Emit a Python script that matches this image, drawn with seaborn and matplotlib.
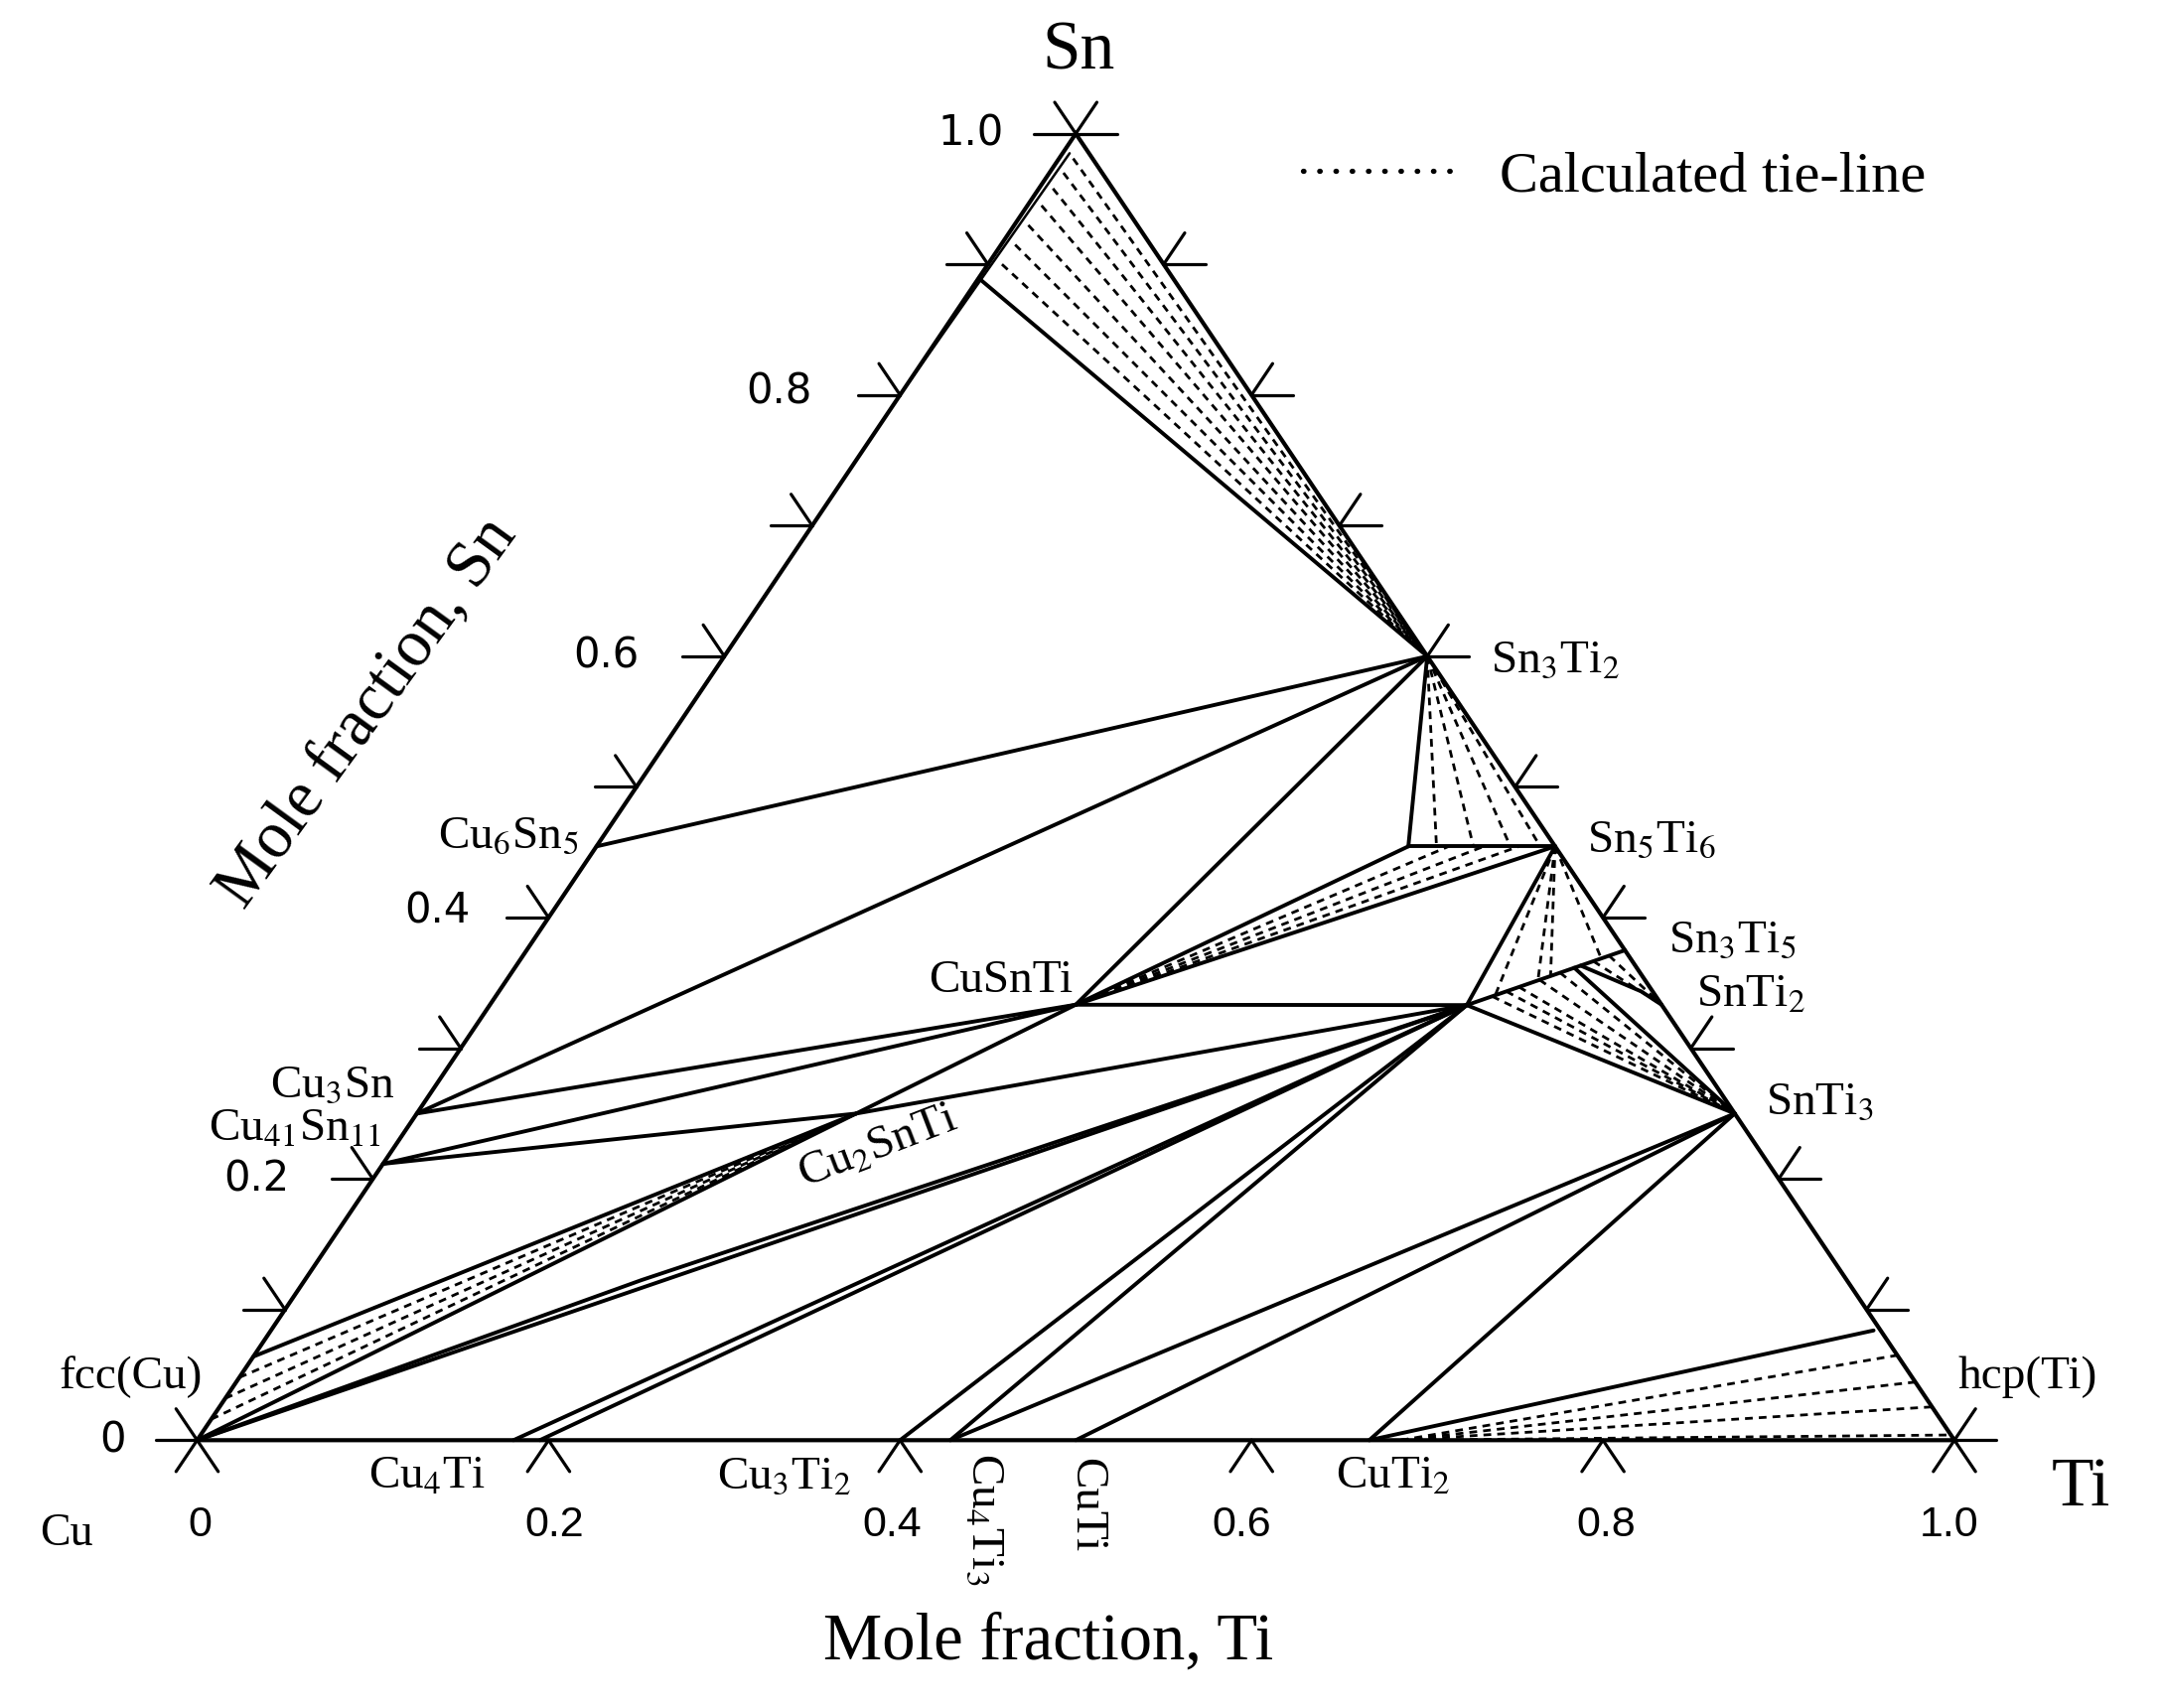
import numpy as np
import pandas as pd
import matplotlib
matplotlib.use("Agg")
import matplotlib.pyplot as plt
from matplotlib.lines import Line2D
import seaborn as sns

# --- compositions, as (x_Ti, x_Sn) ---
CU = (0.0, 0.0)
SN = (0.0, 1.0)
TI = (1.0, 0.0)
SN3TI2 = (0.400, 0.600)
SN5TI6 = (0.5455, 0.4545)
SN5TI6_CU = (0.462, 0.4545)      # Cu-rich limit of Sn5Ti6
SN3TI5 = (0.625, 0.375)
SNTI2 = (0.6667, 0.3333)
SNTI3 = (0.750, 0.250)
SN3TI5_CU = (0.556, 0.333)       # Cu-rich limit of Sn3Ti5
HCP_TI = (0.912, 0.084)
CU6SN5 = (0.0, 0.4545)
CU3SN = (0.0, 0.250)
CU41SN11 = (0.0, 0.2115)
FCC_CU = (0.0, 0.064)
CUSNTI = (0.3333, 0.3333)
CU2SNTI = (0.250, 0.250)
LIQUID = (0.002, 0.888)
SNTI2_BEND = (0.650, 0.3435)

# Cu-Ti compounds on the base (x_Ti)
CU4TI = [0.180, 0.195]
CU3TI2 = 0.400
CU4TI3 = 0.4286
CUTI = 0.500
CUTI2 = 0.667

# tie-line ends
LIQ_TIE_SN = [0.900, 0.915, 0.930, 0.945, 0.958, 0.970, 0.981]
SN32_TIE_TI = [0.478, 0.499, 0.520, 0.537]
CUSNTI_TIE_TI = [0.485, 0.505, 0.525]
SN56_TIE_T = [0.18, 0.45, 0.53, 0.85]
SNTI3_TIE_T = [0.16, 0.25, 0.33, 0.46, 0.59]
SNTI2_TIE_T = [0.80, 0.90]
FCC_TIE_SN = [0.016, 0.032, 0.048]
HCP_TIE_SN = [0.065, 0.0445, 0.0255, 0.004]

TICKS = [0.1, 0.2, 0.3, 0.4, 0.5, 0.6, 0.7, 0.8, 0.9]
BASE_TICKS = [0.2, 0.4, 0.6, 0.8]


def tern(p):
    ti, sn = p
    return ti + 0.5 * sn, sn


def along(a, b, t):
    return (a[0] + t * (b[0] - a[0]), a[1] + t * (b[1] - a[1]))


def base(ti):
    return (ti, 0.0)


R_PT = along(SN3TI5_CU, SN3TI5, 0.68)
BEND0 = along(SN3TI5_CU, SN3TI5, 0.72)
cu_q_mid = along(CU, SN3TI5_CU, 0.35)
cu_q_mid = (cu_q_mid[0] - 0.003, cu_q_mid[1] + 0.006)

solid = [
    [LIQUID, SN3TI2],
    [SN3TI2, CU6SN5], [SN3TI2, CU3SN], [SN3TI2, CUSNTI],
    [SN3TI2, SN5TI6_CU], [SN5TI6_CU, SN5TI6],
    [CUSNTI, SN5TI6_CU], [CUSNTI, SN5TI6], [CUSNTI, SN3TI5_CU],
    [SN3TI5_CU, SN5TI6], [SN3TI5_CU, SN3TI5], [SN3TI5_CU, SNTI3],
    [R_PT, SNTI3], [BEND0, SNTI2_BEND, SNTI2],
    [CU3SN, CUSNTI], [CU41SN11, CUSNTI], [CU41SN11, CU2SNTI],
    [CU2SNTI, SN3TI5_CU], [CU, CUSNTI], [FCC_CU, CU2SNTI],
    [CU, SN3TI5_CU], [CU, cu_q_mid, SN3TI5_CU],
    [base(CU4TI[0]), SN3TI5_CU], [base(CU4TI[1]), SN3TI5_CU],
    [base(CU3TI2), SN3TI5_CU], [base(CU4TI3), SN3TI5_CU],
    [base(CU4TI3), SNTI3], [base(CUTI), SNTI3],
    [base(CUTI2), SNTI3], [base(CUTI2), HCP_TI],
]

dashed = []
dashed += [[(0.008, s), SN3TI2] for s in LIQ_TIE_SN]
dashed += [[SN3TI2, (t, SN5TI6[1])] for t in SN32_TIE_TI]
dashed += [[CUSNTI, (t, SN5TI6[1])] for t in CUSNTI_TIE_TI]
dashed += [[SN5TI6, along(SN3TI5_CU, SN3TI5, t)] for t in SN56_TIE_T]
dashed += [[along(SN3TI5_CU, SN3TI5, t), SNTI3] for t in SNTI3_TIE_T]
dashed += [[along(SN3TI5_CU, SN3TI5, t), SNTI2] for t in SNTI2_TIE_T]
dashed += [[(0.0, s), CU2SNTI] for s in FCC_TIE_SN]
dashed += [[(0.685, 0.0), (1.0 - s, s)] for s in HCP_TIE_SN]


def to_frame(segments):
    rows = []
    for i, seg in enumerate(segments):
        for p in seg:
            x, y = tern(p)
            rows.append({"seg": i, "x": x, "y": y})
    return pd.DataFrame(rows)


sns.set_theme(style="white")
plt.rcParams["font.family"] = ["Liberation Serif", "DejaVu Sans"]
plt.rcParams["mathtext.fontset"] = "stix"
plt.rcParams["text.color"] = "black"

fig = plt.figure(figsize=(21.76, 17.2), dpi=100)
ax = fig.add_axes([0, 0, 1, 1])

# triangle frame
frame = pd.DataFrame({"x": [tern(p)[0] for p in (CU, TI, SN, CU)],
                      "y": [tern(p)[1] for p in (CU, TI, SN, CU)]})
ax.plot(frame["x"], frame["y"], color="black", lw=3.0, solid_joinstyle="miter")
# liquid boundary hugging the Cu-Sn side
inner = [tern((0.004, 0.985)), tern((0.0, 0.80))]
ax.plot([inner[0][0], inner[1][0]], [inner[0][1], inner[1][1]], color="black", lw=1.8)

sns.lineplot(data=to_frame(solid), x="x", y="y", units="seg", estimator=None,
             sort=False, color="black", linewidth=2.8, ax=ax)
sns.lineplot(data=to_frame(dashed), x="x", y="y", units="seg", estimator=None,
             sort=False, color="black", linewidth=2.0, linestyle=(0, (2.8, 2.2)), ax=ax)

# tick marks
H = 0.0237
SX, SY = 0.012, 0.024
tick_kw = dict(color="black", lw=2.3)


def stub(p, dx, dy):
    x, y = tern(p)
    ax.plot([x, x + dx], [y, y + dy], **tick_kw)


for v in TICKS:
    stub((0.0, v), -H, 0)
    stub((0.0, v), -SX, SY)
    stub((1.0 - v, v), H, 0)
    stub((1.0 - v, v), SX, SY)
for v in BASE_TICKS:
    stub((v, 0.0), -SX, -SY)
    stub((v, 0.0), SX, -SY)
for d in [(-H, 0), (-SX, SY), (SX, -SY), (-SX, -SY)]:
    stub(CU, *d)
for d in [(H, 0), (SX, SY), (-SX, -SY), (SX, -SY)]:
    stub(TI, *d)
for d in [(-H, 0), (H, 0), (-SX, SY), (SX, SY)]:
    stub(SN, *d)

# tick labels
left_labels = [("1.0", 1.0, -76, 0), ("0.8", 0.8, -88, 2), ("0.6", 0.6, -86, 0),
               ("0.4", 0.4, -81, 5), ("0.2", 0.2, -84, 0), ("0", 0.0, -61, 0)]
for txt, v, dx, dy in left_labels:
    ax.annotate(txt, xy=tern((0.0, v)), xytext=(dx, dy), textcoords="offset points",
                ha="center", va="center", fontsize=30, family="DejaVu Sans")
base_labels = [("0", 0.0, 2), ("0.2", 0.2, 4), ("0.4", 0.4, -6), ("0.6", 0.6, -7),
               ("0.8", 0.8, 2), ("1.0", 1.0, -4)]
for txt, v, dx in base_labels:
    ax.annotate(txt, xy=tern((v, 0.0)), xytext=(dx, -62), textcoords="offset points",
                ha="center", va="center", fontsize=31, family="Liberation Sans")

# phase labels
phase_labels = [
    ("Sn$_3$Ti$_2$", SN3TI2, 93, -3, 0), ("Sn$_5$Ti$_6$", SN5TI6, 70, 4, 0),
    ("Sn$_3$Ti$_5$", SN3TI5, 78, 7, 0), ("SnTi$_2$", SNTI2, 65, 7, 0),
    ("SnTi$_3$", SNTI3, 62, 8, 0), ("hcp(Ti)", HCP_TI, 112, -34, 0),
    ("CuSnTi", CUSNTI, -54, 17, 0), ("Cu$_6$Sn$_5$", CU6SN5, -64, 7, 0),
    ("Cu$_3$Sn", CU3SN, -61, 20, 0), ("Cu$_{41}$Sn$_{11}$", CU41SN11, -64, 25, 0),
    ("fcc(Cu)", FCC_CU, -89, -15, 0), ("Cu$_2$SnTi", CU2SNTI, 16, -25, 21),
    ("Cu$_4$Ti", base(0.2), -88, -27, 0), ("Cu$_3$Ti$_2$", base(CU3TI2), -84, -27, 0),
    ("Cu$_4$Ti$_3$", base(CU4TI3), 24, -57, -90), ("CuTi", base(CUTI), 7, -47, -90),
    ("CuTi$_2$", base(CUTI2), 17, -27, 0),
]
for txt, p, dx, dy, rot in phase_labels:
    ax.annotate(txt, xy=tern(p), xytext=(dx, dy), textcoords="offset points",
                ha="center", va="center", fontsize=34, rotation=rot,
                rotation_mode="anchor")

# corner names and axis titles
ax.annotate("Sn", xy=tern(SN), xytext=(2, 59), textcoords="offset points",
            ha="center", va="center", fontsize=50)
ax.annotate("Ti", xy=tern(TI), xytext=(92, -35), textcoords="offset points",
            ha="center", va="center", fontsize=50)
ax.annotate("Cu", xy=tern(CU), xytext=(-95, -68), textcoords="offset points",
            ha="center", va="center", fontsize=33)
ax.annotate("Mole fraction, Ti", xy=tern((0.5, 0.0)), xytext=(-20, -147),
            textcoords="offset points", ha="center", va="center", fontsize=48)
ax.annotate("Mole fraction, Sn", xy=tern((0.0, 0.5)), xytext=(-195, 54),
            textcoords="offset points", ha="center", va="center", fontsize=48,
            rotation=54, rotation_mode="anchor")

handle = Line2D([0], [0], color="black", lw=3.8, linestyle=(0, (0.1, 3.0)),
                dash_capstyle="round")
ax.legend(handles=[handle], labels=["Calculated tie-line"], loc="center left",
          bbox_to_anchor=(0.5895, 0.8967), bbox_transform=fig.transFigure,
          frameon=False, handlelength=2.6, handletextpad=0.8, borderpad=0,
          prop={"family": "Liberation Serif", "size": 42})

ax.set_xlim(-0.11218, 1.11755)
ax.set_ylim(-0.20498, 1.10230)
ax.axis("off")

fig.savefig("out.png", dpi=100, facecolor="white")
